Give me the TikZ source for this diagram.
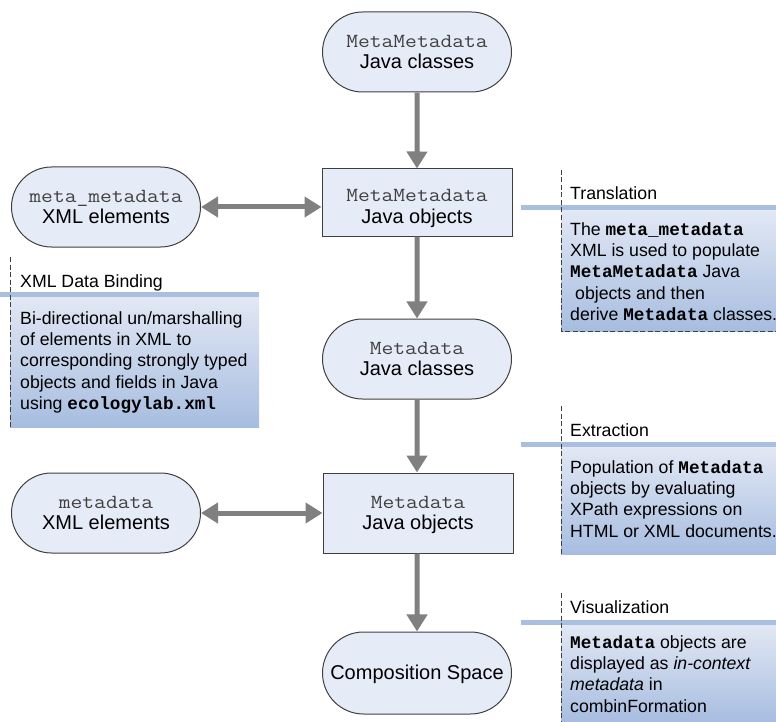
\documentclass[tikz,border=0pt]{standalone}
\usepackage{fontspec}
\setmainfont{Liberation Sans}
\setmonofont{Liberation Mono}
\newfontfamily\courfont[FakeStretch=1.143]{Latin Modern Mono}
\usetikzlibrary{shapes.misc,arrows.meta}
\definecolor{nodefill}{HTML}{E6ECF7}
\definecolor{nodeline}{HTML}{3F3F3F}
\definecolor{arrowgray}{HTML}{808080}
\definecolor{barblue}{HTML}{A9BFE0}
\definecolor{boxtop}{HTML}{E2E8F4}
\definecolor{boxbot}{HTML}{A7BDE0}
\definecolor{dashgray}{HTML}{404040}
\definecolor{courgray}{HTML}{404040}
\tikzset{
  stadium/.style={rounded rectangle, draw=nodeline, fill=nodefill, line width=1pt,
    minimum width=189pt, minimum height=80pt, inner sep=0pt, align=center,
    font=\fontsize{20}{21.5}\selectfont},
  objbox/.style={rectangle, draw=nodeline, fill=nodefill, line width=1pt,
    minimum width=190pt, minimum height=67pt, inner sep=0pt, align=center,
    font=\fontsize{20}{21.5}\selectfont},
  flow/.style={draw=arrowgray, line width=5pt, -{Triangle[width=20pt,length=17pt]}},
  biflow/.style={draw=arrowgray, line width=5pt, {Triangle[width=20pt,length=17pt]}-{Triangle[width=20pt,length=17pt]}},
  annodash/.style={draw=dashgray, line width=0.9pt, dash pattern=on 5pt off 2.5pt},
  anntitle/.style={inner sep=0pt, anchor=base west, font=\fontsize{17.7}{21.3}\selectfont},
  annbody/.style={inner sep=0pt, anchor=north west, align=left, font=\fontsize{17.7}{21.3}\selectfont},
}
\newcommand{\mb}[1]{{\ttfamily\bfseries #1}}
\newcommand{\cw}[1]{{\courfont\color{courgray}#1}}
\newcommand{\topstrut}{\rule{0pt}{13pt}}
\begin{document}
\begin{tikzpicture}[x=1pt,y=-1pt]
\useasboundingbox (0,0) rectangle (776,722);

% annotation backgrounds
% Translation
\shade[top color=boxtop, bottom color=boxbot] (561,210.5) rectangle (776,331);
\fill[barblue] (521,205.5) rectangle (776,210.5);
\draw[annodash] (561,170) -- (561,331) -- (776,331);
% XML Data Binding
\shade[top color=boxtop, bottom color=boxbot] (10,297) rectangle (259,427);
\fill[barblue] (0,292) rectangle (259,297);
\draw[annodash] (10,257) -- (10,427);
% Extraction
\shade[top color=boxtop, bottom color=boxbot] (561,447) rectangle (776,554);
\fill[barblue] (521,442) rectangle (776,447);
\draw[annodash] (561,406) -- (561,554);
% Visualization
\shade[top color=boxtop, bottom color=boxbot] (561,625) rectangle (776,722);
\fill[barblue] (521,620) rectangle (776,625);
\draw[annodash] (561,593) -- (561,722);

% main nodes
\node[stadium] (mmc) at (417,52) {\cw{MetaMetadata}\\Java classes};
\node[objbox] (mmo) at (417,202.5) {\rule{0pt}{24pt}\cw{MetaMetadata}\\Java objects};
\node[stadium] (mmx) at (106,207) {\cw{meta\_metadata}\\XML elements};
\node[stadium] (mdc) at (417,359) {\cw{Metadata}\\Java classes};
\node[objbox, minimum height=80pt] (mdo) at (418,513) {\rule{0pt}{16pt}\cw{Metadata}\\Java objects};
\node[stadium] (mdx) at (106,513) {\cw{metadata}\\XML elements};
\node[stadium, minimum height=82pt] (cs) at (417,673) {\rule{0pt}{17pt}Composition Space};

% connectors
\draw[flow] (mmc) -- (mmo);
\draw[biflow] (mmx.east) -- (mmx.east -| mmo.west);
\draw[flow] (mmo) -- (mdc);
\draw[flow] (mdc) -- (mdc |- mdo.north);
\draw[biflow] (mdx.east) -- (mdx.east -| mdo.west);
\draw[flow] (mdo.south -| cs) -- (cs);

% annotation texts
\node[anntitle] (t1) at (570,200) {Translation};
\node[annbody] (b1) at (570,222) {\topstrut The \mb{meta\_metadata}\\
XML is used to populate\\
\mb{MetaMetadata} Java\\
\hspace*{0.28em}objects and then\\
derive \mb{Metadata} classes.};

\node[anntitle] (t2) at (20,287) {XML Data Binding};
\node[annbody] (b2) at (20,311) {\topstrut Bi-directional un/marshalling\\
of elements in XML to\\
corresponding strongly typed\\
objects and fields in Java\\
using \mb{ecologylab.xml}};

\node[anntitle] (t3) at (570,436) {Extraction};
\node[annbody] (b3) at (570,460) {\topstrut Population of \mb{Metadata}\\
objects by evaluating\\
XPath expressions on\\
HTML or XML documents.};

\node[anntitle] (t4) at (570,613) {Visualization};
\node[annbody] (b4) at (570,635) {\topstrut\mb{Metadata} objects are\\
displayed as \textit{in-context}\\
\textit{metadata} in\\
combinFormation};
\end{tikzpicture}
\end{document}
